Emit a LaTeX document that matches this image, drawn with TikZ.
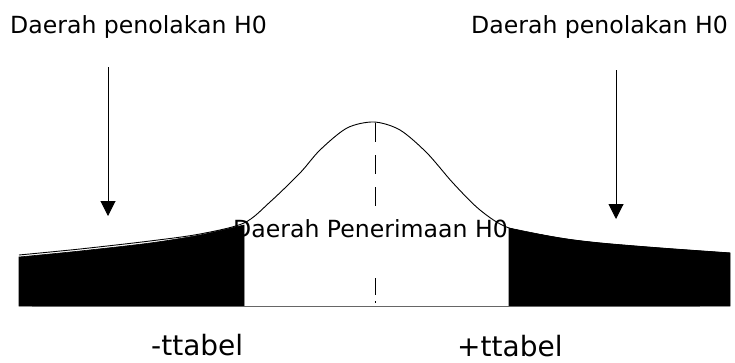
\documentclass[tikz,border=0pt]{standalone}
\usepackage{fontspec}
\setmainfont{DejaVu Sans}
\usetikzlibrary{arrows.meta}
\begin{document}
\begin{tikzpicture}[x=1pt,y=-1pt,
  lbl/.style={inner sep=0pt,anchor=base west,font=\fontsize{23.6}{26}\selectfont},
  tlbl/.style={inner sep=0pt,anchor=base west,font=\fontsize{28}{30}\selectfont},
  arr/.style={line width=1pt,-{Triangle[width=15pt,length=15pt]}},
  curve/.style={line width=0.9pt},
  tail/.style={fill=black,draw=black,line width=0.6pt}]
\useasboundingbox (0,0) rectangle (735,362);
% tails (shaded rejection regions)
\fill[tail] (19,306) -- plot[smooth] coordinates {(19,257) (80,251) (150,243) (200,235) (244,225)} -- (244,306) -- cycle;
\fill[tail] (509,306) -- plot[smooth] coordinates {(509,228) (560,238) (600,243) (660,248) (730,253)} -- (730,306) -- cycle;
% baseline
\draw[line width=1.2pt,black!60] (32,306.5) -- (700,306.5);
% curve
\draw[curve] plot[smooth] coordinates {(19,255) (80,249) (150,241) (200,234) (244,223) (270,202) (300,173) (320,150) (347,128) (374,122) (400,130) (427,153) (453,183) (480,210) (509,228) (560,238) (600,243) (660,248) (730,253)};
% axis of symmetry
\coordinate (ctop) at (375,123);
\coordinate (cmid) at (375,206);
\coordinate (clow) at (375,278);
\coordinate (cbot) at (375,303);
\draw[line width=0.9pt,dash pattern=on 19pt off 13pt] (ctop) -- (cmid);
\draw[line width=0.9pt,dash pattern=on 17pt off 6pt on 1.5pt off 2pt] (clow) -- (cbot);
% labels
\node[lbl] (ltxt) at (10,33) {Daerah penolakan H0};
\node[lbl] (rtxt) at (471,33) {Daerah penolakan H0};
\node[lbl] (ctxt) at (233,237) {Daerah Penerimaan H0};
\node[tlbl] (mt) at (151,355) {-ttabel};
\node[tlbl] (pt) at (457,356) {+ttabel};
% arrows
\coordinate (la1) at (108,67);
\coordinate (la2) at (108,216);
\coordinate (ra1) at (616,70);
\coordinate (ra2) at (616,219);
\draw[arr] (la1) -- (la2);
\draw[arr] (ra1) -- (ra2);
\end{tikzpicture}
\end{document}
